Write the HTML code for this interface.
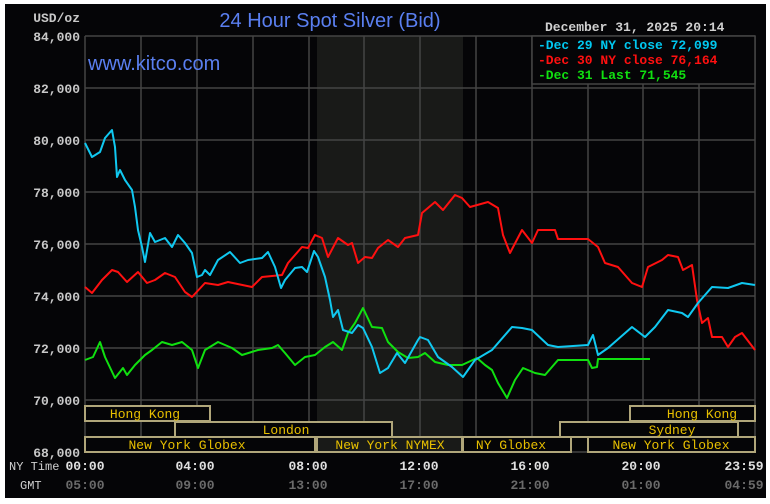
<!DOCTYPE html>
<html><head><meta charset="utf-8"><style>
html,body{margin:0;padding:0;background:#fff;}
svg{display:block;}
text{font-family:"Liberation Mono","DejaVu Sans Mono",monospace;}
</style></head><body>
<svg width="770" height="504" viewBox="0 0 770 504" xmlns="http://www.w3.org/2000/svg">
<rect x="0" y="0" width="770" height="504" fill="#fff"/>
<rect x="5" y="4" width="761" height="494" fill="#050507"/>
<rect x="317" y="36" width="146" height="416" fill="#191a18"/>
<g stroke="#444" stroke-width="1.5">
<line x1="85" y1="36" x2="755" y2="36"/><line x1="85" y1="88" x2="755" y2="88"/><line x1="85" y1="140" x2="755" y2="140"/><line x1="85" y1="192" x2="755" y2="192"/><line x1="85" y1="244" x2="755" y2="244"/><line x1="85" y1="296" x2="755" y2="296"/><line x1="85" y1="348" x2="755" y2="348"/><line x1="85" y1="400" x2="755" y2="400"/><line x1="85" y1="452" x2="755" y2="452"/>
<line x1="85" y1="36" x2="85" y2="452"/><line x1="141" y1="36" x2="141" y2="452"/><line x1="197" y1="36" x2="197" y2="452"/><line x1="253" y1="36" x2="253" y2="452"/><line x1="309" y1="36" x2="309" y2="452"/><line x1="364" y1="36" x2="364" y2="452"/><line x1="420" y1="36" x2="420" y2="452"/><line x1="476" y1="36" x2="476" y2="452"/><line x1="532" y1="36" x2="532" y2="452"/><line x1="588" y1="36" x2="588" y2="452"/><line x1="643" y1="36" x2="643" y2="452"/><line x1="699" y1="36" x2="699" y2="452"/><line x1="755" y1="36" x2="755" y2="452"/>
</g>
<text x="330" y="27" text-anchor="middle" fill="#5a7ff0" style="font-family:'Liberation Sans',sans-serif;font-size:20px">24 Hour Spot Silver (Bid)</text>
<text x="88" y="70" fill="#5a7ff0" style="font-family:'Liberation Sans',sans-serif;font-size:20px">www.kitco.com</text>
<g fill="#c8c8c8" font-size="13" text-anchor="end" font-weight="bold">
<text x="80" y="22">USD/oz</text>
<text x="80" y="41">84,000</text><text x="80" y="93">82,000</text><text x="80" y="145">80,000</text><text x="80" y="197">78,000</text><text x="80" y="249">76,000</text><text x="80" y="301">74,000</text><text x="80" y="353">72,000</text><text x="80" y="405">70,000</text><text x="80" y="457">68,000</text>
</g>
<text x="545" y="31" fill="#d0d0d0" font-size="13" font-weight="bold">December 31, 2025 20:14</text>
<rect x="532" y="36" width="223" height="48" fill="#050507" stroke="#444" stroke-width="1.5"/>
<g font-size="13" font-weight="bold">
<text x="538" y="49" fill="#00c8f0">-Dec 29 NY close 72,099</text>
<text x="538" y="64" fill="#ff1010">-Dec 30 NY close 76,164</text>
<text x="538" y="79" fill="#10e010">-Dec 31 Last 71,545</text>
</g>
<g fill="none" stroke-width="2" stroke-linejoin="round">
<polyline stroke="#10e010" points="85,360 93,357 100,342 105,357 115,378 123,368 127,375 135,365 140,360 145,355 152,350 162,342 172,345 182,342 192,350 198,368 205,350 218,342 232,348 242,355 258,350 272,348 278,345 285,353 295,365 305,357 315,355 325,347 333,342 342,350 348,333 355,323 363,308 372,327 382,328 388,342 398,352 408,358 418,357 425,353 435,362 448,365 462,365 477,358 485,365 492,370 498,383 507,398 515,380 523,368 535,373 545,375 558,360 588,360 592,368 597,367 598,359 650,359"/>
<polyline stroke="#ff1010" points="85,287 92,293 102,280 112,270 118,272 127,282 138,272 147,283 155,280 165,273 175,277 185,292 192,297 205,283 218,285 228,282 252,287 262,277 282,275 288,263 302,247 308,248 315,235 322,238 328,257 338,238 348,245 352,243 358,263 365,257 372,258 378,248 388,240 398,247 405,238 418,235 422,213 435,202 443,210 455,195 462,198 470,207 488,202 498,208 503,235 510,253 522,230 532,243 538,230 555,230 558,239 588,239 598,247 605,263 618,267 632,283 642,287 648,267 662,260 668,255 678,257 683,270 692,265 697,300 702,323 708,318 712,337 722,337 728,347 735,337 742,333 755,350"/>
<polyline stroke="#10c8f0" points="85,143 92,157 100,152 105,138 112,130 115,147 117,177 120,170 125,180 132,190 135,207 138,230 142,247 145,262 150,233 155,242 165,238 172,247 178,235 185,243 192,253 197,277 202,275 205,270 210,275 218,260 230,252 240,263 248,260 262,258 268,252 275,267 281,288 285,280 295,268 302,267 307,272 314,251 318,257 325,277 330,300 333,317 338,310 343,330 352,333 358,325 363,328 372,347 380,373 388,368 397,353 405,363 418,340 420,337 428,340 438,357 452,367 463,377 475,360 492,350 512,327 522,328 532,330 548,345 558,347 588,345 593,335 598,355 608,348 632,327 645,337 655,327 668,310 682,313 688,317 698,303 712,287 728,288 742,283 755,285"/>
</g>
<g stroke="#b0a67a" stroke-width="2" fill="#050507">
<rect x="85" y="406" width="125" height="15"/>
<rect x="630" y="406" width="125" height="15"/>
<rect x="175" y="422" width="217" height="15"/>
<rect x="560" y="422" width="178" height="15"/>
<rect x="85" y="437" width="230" height="15"/>
<rect x="317" y="437" width="145" height="15" fill="#191a18"/>
<rect x="463" y="437" width="108" height="15"/>
<rect x="588" y="437" width="167" height="15"/>
</g>
<g fill="#e8c000" font-size="13" text-anchor="middle">
<text x="145" y="418">Hong Kong</text>
<text x="702" y="418">Hong Kong</text>
<text x="286" y="434">London</text>
<text x="672" y="434">Sydney</text>
<text x="187" y="449">New York Globex</text>
<text x="390" y="449">New York NYMEX</text>
<text x="511" y="449">NY Globex</text>
<text x="671" y="449">New York Globex</text>
</g>
<g fill="#e0e0e0" font-size="13" font-weight="bold" text-anchor="middle">
<text x="85" y="470">00:00</text><text x="195" y="470">04:00</text><text x="308" y="470">08:00</text><text x="419" y="470">12:00</text><text x="530" y="470">16:00</text><text x="641" y="470">20:00</text><text x="744" y="470">23:59</text>
</g>
<g fill="#6a6a6a" font-size="13" font-weight="bold" text-anchor="middle">
<text x="85" y="489">05:00</text><text x="195" y="489">09:00</text><text x="308" y="489">13:00</text><text x="419" y="489">17:00</text><text x="530" y="489">21:00</text><text x="641" y="489">01:00</text><text x="744" y="489">04:59</text>
</g>
<text x="9" y="470" fill="#d0d0d0" font-size="12">NY Time</text>
<text x="20" y="489" fill="#d0d0d0" font-size="12">GMT</text>
</svg>
</body></html>
